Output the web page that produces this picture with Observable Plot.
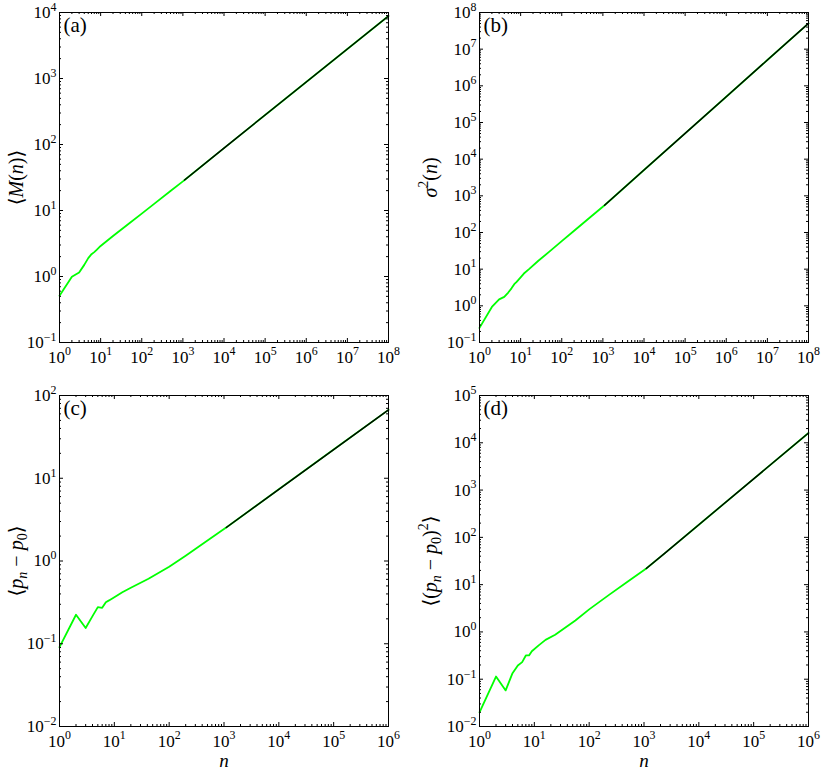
<!DOCTYPE html>
<html><head><meta charset="utf-8">
<script src="https://cdn.jsdelivr.net/npm/d3@7"></script>
<script src="https://cdn.jsdelivr.net/npm/@observablehq/plot@0.6"></script>
<style>
body{margin:0;background:#fff;}
#fig{position:relative;width:822px;height:770px;overflow:hidden;background:#fff;}
#fig svg{position:absolute;}
#fig svg, #fig svg text, #fig svg tspan{font-family:'Liberation Serif','DejaVu Serif',serif;}
</style></head><body><div id="fig"></div>
<script>
// ---- data ----
// (a) <M(n)>
const nA = [1,2,3,4,5,6,7,8,10,20,50,100,200,500,1000,1100,1e4,1e5,1e6,1e7,1e8];
const vA = [0.51,0.99,1.15,1.5,1.9,2.18,2.34,2.53,2.9,4.1,6.4,8.98,12.6,19.7,27.6,29.0,88,280,885,2800,8850];
const nFitA = [1100,1e4,1e5,1e6,1e7,1e8];
const vFitA = [29.0,88,280,885,2800,8850];
// (b) sigma^2(n)
const nB = [1,2,3,4,5,6,7,8,10,12,16,27,50,100,200,500,1100,1e4,1e5,1e6,1e7,1e8];
const vB = [0.25,0.93,1.5,1.75,2.3,3.0,3.9,4.5,6.0,7.6,10,17,30,58,112,265,555,5050,5.05e4,5.05e5,5.05e6,5.05e7];
const nFitB = [1100,1e4,1e5,1e6,1e7,1e8];
const vFitB = [555,5050,5.05e4,5.05e5,5.05e6,5.05e7];
// (c) <p_n - p_0>
const nC = [1,2,3,4,5,6,7,8,10,14,20,42,100,200,300,500,1000,1100,1e4,1e5,1e6];
const vC = [0.091,0.224,0.155,0.216,0.277,0.272,0.318,0.334,0.365,0.42,0.475,0.61,0.85,1.16,1.4,1.77,2.43,2.54,7.35,22.2,67];
const nFitC = [1100,1e4,1e5,1e6];
const vFitC = [2.54,7.35,22.2,67];
// (d) <(p_n - p_0)^2>
const nD = [1,2,3,4,5,6,7,8,9,12,16,24,56,100,227,500,1100,2440,1e4,1e5,1e6];
const vD = [0.020,0.114,0.058,0.134,0.195,0.23,0.318,0.318,0.39,0.52,0.68,0.87,1.75,3.0,6.0,11.5,22,47,185,1726,1.61e4];
const nFitD = [1100,2440,1e4,1e5,1e6];
const vFitD = [22,47,185,1726,1.61e4];
// tick exponents
const xExpAB = [0,1,2,3,4,5,6,7,8];
const xExpCD = [0,1,2,3,4,5,6];
const yExpA = [-1,0,1,2,3,4];
const yExpB = [-1,0,1,2,3,4,5,6,7,8];
const yExpC = [-2,-1,0,1,2];
const yExpD = [-2,-1,0,1,2,3,4,5];
const MINOR = [2,3,4,5,6,7,8,9];
const letters = ["(a)","(b)","(c)","(d)"];
// label parts: [text, flags] i=italic, b=subscript, p=superscript
const labelA = [["⟨"],["M","i"],["("],["n","i"],[")⟩"]];
const labelB = [["σ","i"],["2","p"],["("],["n","i"],[")"]];
const labelC = [["⟨"],["p","i"],["n","ib"],[" − "],["p","i"],["0","b"],["⟩"]];
const labelD = [["⟨("],["p","i"],["n","ib"],[" − "],["p","i"],["0","b"],[")"],["2","p"],["⟩"]];
const labelX = [["n","i"]];

const FONT = "'Liberation Serif','DejaVu Serif',serif";

function rich(textEl, parts, size) {
  const t = d3.select(textEl);
  t.text(null).attr("font-size", size);
  let shift = 0;
  for (const [s, f = ""] of parts) {
    const ts = t.append("tspan").text(s);
    if (f.includes("i")) ts.attr("font-style", "italic");
    let target = 0;
    if (f.includes("b")) { ts.attr("font-size", size * 0.7); target = size * 0.22; }
    if (f.includes("p")) { ts.attr("font-size", size * 0.7); target = -size * 0.42; }
    if (target !== shift) { ts.attr("dy", target - shift); shift = target; }
  }
}

function makePanel(o) {
  const W = 411, H = 385;
  const ih = H - o.mt - o.mb, iw = W - o.ml - o.mr;
  const xMaj = o.xExp.map(e => 10 ** e), yMaj = o.yExp.map(e => 10 ** e);
  const minor = ex => ex.slice(0, -1).flatMap(e => MINOR.map(k => k * 10 ** e));
  const xMin = minor(o.xExp), yMin = minor(o.yExp);
  const fmt = d => "10^" + Math.round(Math.log10(d));
  const green = o.n.map((n, i) => ({n, v: o.v[i]}));
  const fit = o.nFit.map((n, i) => ({n, v: o.vFit[i]}));
  const id = d => d;
  const svg = Plot.plot({
    width: W, height: H,
    marginLeft: o.ml, marginRight: o.mr, marginTop: o.mt, marginBottom: o.mb,
    x: {type: "log", domain: [xMaj[0], xMaj[xMaj.length - 1]]},
    y: {type: "log", domain: [yMaj[0], yMaj[yMaj.length - 1]]},
    style: {fontFamily: FONT, fontSize: "17px", background: "transparent", overflow: "visible", color: "#000"},
    marks: [
      Plot.line(green, {x: "n", y: "v", stroke: "#00ff00", strokeWidth: 1.8}),
      Plot.line(fit, {x: "n", y: "v", stroke: "#000", strokeWidth: 1.4}),
      Plot.frame({stroke: "#000"}),
      Plot.tickX(xMaj, {x: id, insetTop: ih - 4}),
      Plot.tickX(xMaj, {x: id, insetBottom: ih - 4}),
      Plot.tickX(xMin, {x: id, insetTop: ih - 2}),
      Plot.tickX(xMin, {x: id, insetBottom: ih - 2}),
      Plot.tickY(yMaj, {y: id, insetRight: iw - 4}),
      Plot.tickY(yMaj, {y: id, insetLeft: iw - 4}),
      Plot.tickY(yMin, {y: id, insetRight: iw - 2}),
      Plot.tickY(yMin, {y: id, insetLeft: iw - 2}),
      Plot.axisX({ticks: xMaj, tickSize: 0, tickPadding: 8, tickFormat: fmt, fontSize: 17, fontFamily: FONT,
        label: o.xlabel ? "n" : null, labelAnchor: "center", labelOffset: 40, labelArrow: "none"}),
      Plot.axisY({ticks: yMaj, tickSize: 0, tickPadding: 3, tickFormat: fmt, fontSize: 17, fontFamily: FONT,
        label: "y", labelAnchor: "center", labelOffset: o.lo, labelArrow: "none"}),
      Plot.text([o.letter], {frameAnchor: "top-left", text: id, dx: 4, dy: 5, lineAnchor: "top", textAnchor: "start", fontSize: 21, fontFamily: FONT})
    ]
  });
  svg.style.left = o.left + "px";
  svg.style.top = o.top + "px";
  // superscript tick labels
  d3.select(svg).selectAll('g[aria-label$="tick label"] text').each(function () {
    const m = this.textContent.match(/^10\^(.+)$/);
    if (m) rich(this, [["10"], [m[1].replace("-", "−"), "p"]], 17);
  });
  d3.select(svg).selectAll('g[aria-label="y-axis label"] text').each(function () { rich(this, o.ylabel, 20); });
  if (o.xlabel) d3.select(svg).selectAll('g[aria-label="x-axis label"] text').each(function () { rich(this, labelX, 19); });
  document.getElementById("fig").appendChild(svg);
}

makePanel({n: nA, v: vA, nFit: nFitA, vFit: vFitA, xExp: xExpAB, yExp: yExpA, letter: letters[0], ylabel: labelA,
  xlabel: false, left: 0, top: 0, ml: 59, mr: 23, mt: 12, mb: 43, lo: 51});
makePanel({n: nB, v: vB, nFit: nFitB, vFit: vFitB, xExp: xExpAB, yExp: yExpB, letter: letters[1], ylabel: labelB,
  xlabel: false, left: 411, top: 0, ml: 68, mr: 14, mt: 12, mb: 43, lo: 57});
makePanel({n: nC, v: vC, nFit: nFitC, vFit: vFitC, xExp: xExpCD, yExp: yExpC, letter: letters[2], ylabel: labelC,
  xlabel: true, left: 0, top: 385, ml: 59, mr: 23, mt: 10, mb: 44, lo: 51});
makePanel({n: nD, v: vD, nFit: nFitD, vFit: vFitD, xExp: xExpCD, yExp: yExpD, letter: letters[3], ylabel: labelD,
  xlabel: true, left: 411, top: 385, ml: 68, mr: 14, mt: 10, mb: 44, lo: 57});
</script></body></html>
